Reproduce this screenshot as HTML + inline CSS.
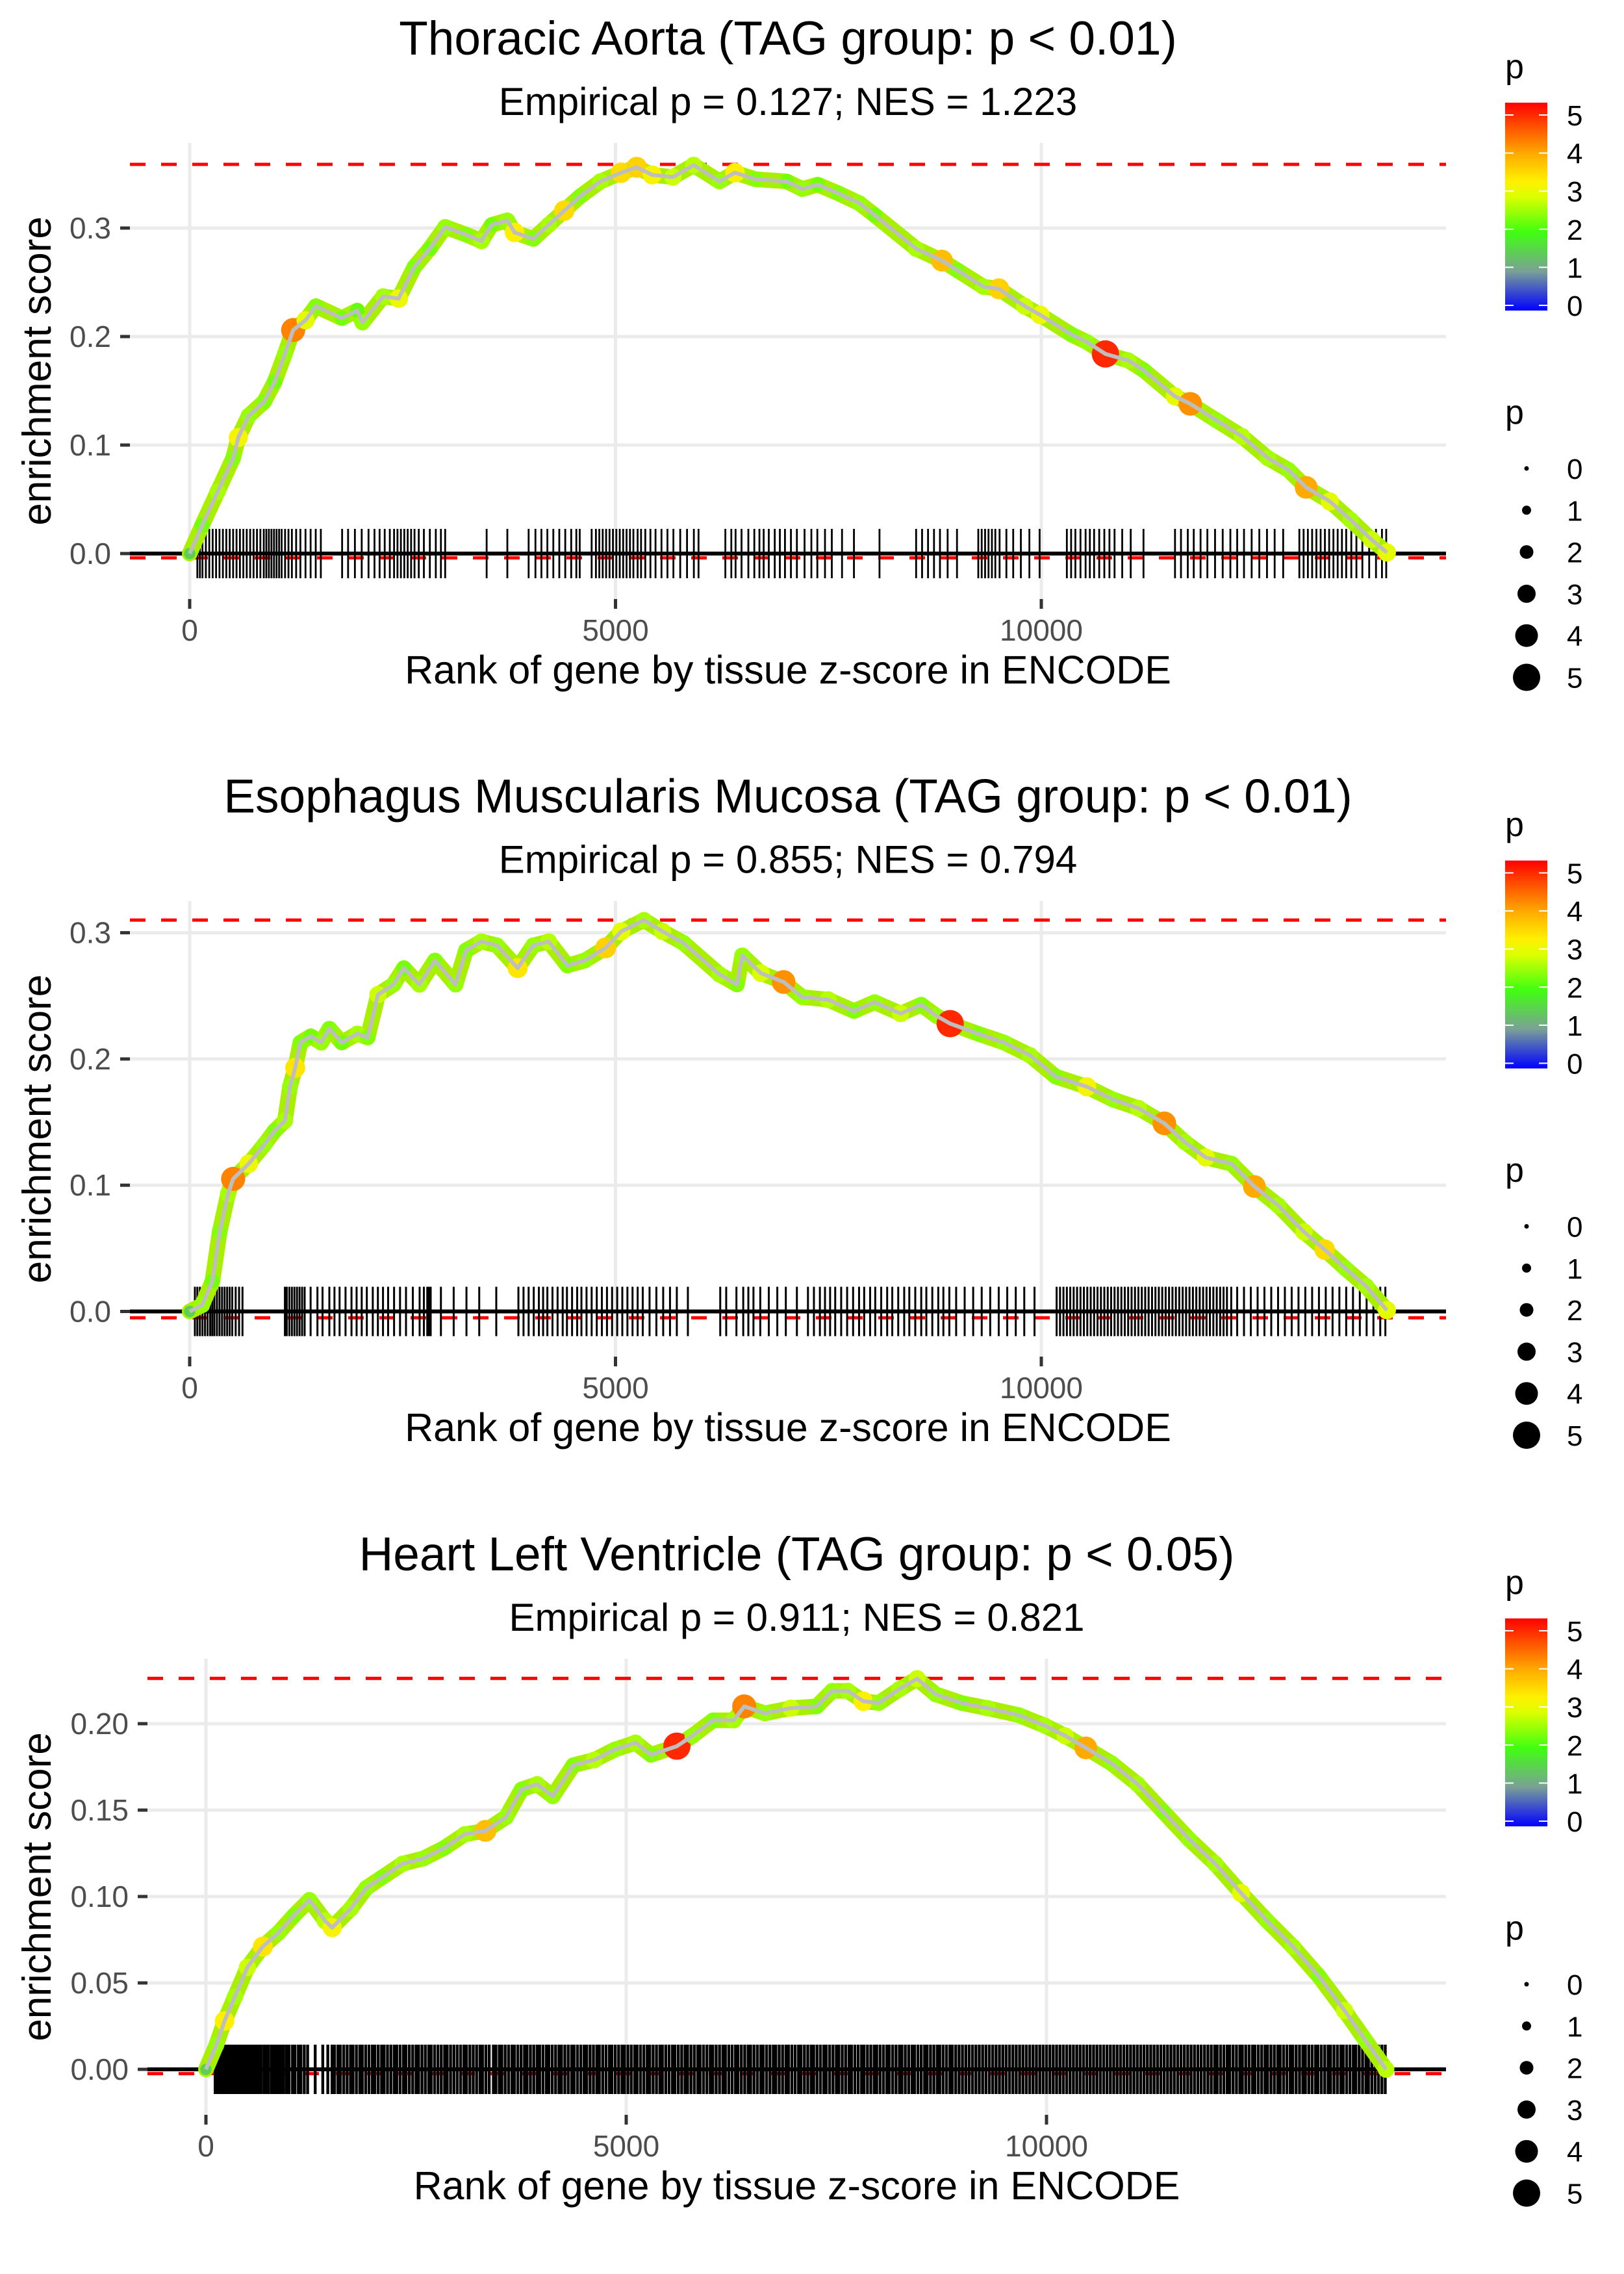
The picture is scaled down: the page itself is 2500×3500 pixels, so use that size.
<!DOCTYPE html>
<html><head><meta charset="utf-8"><style>
html,body{margin:0;padding:0;background:#fff;}
svg{display:block;font-family:"Liberation Sans",Arial,sans-serif;}
</style></head><body>
<svg id="fig" width="2500" height="3500" viewBox="0 0 2500 3500" xmlns="http://www.w3.org/2000/svg">
<rect width="2500" height="3500" fill="#fff"/>
</svg>
<script>
// ---------- data ----------
const TITLES = ["Thoracic Aorta (TAG group: p < 0.01)", "Esophagus Muscularis Mucosa (TAG group: p < 0.01)", "Heart Left Ventricle (TAG group: p < 0.05)"];
const SUBTITLES = ["Empirical p = 0.127; NES = 1.223", "Empirical p = 0.855; NES = 0.794", "Empirical p = 0.911; NES = 0.821"];
const X_TICKS = [0, 5000, 10000];
const X_TICK_LABELS = ["0", "5000", "10000"];
const Y_TICKS_1 = [0, 0.1, 0.2, 0.3];
const Y_TICK_LABELS_1 = ["0.0", "0.1", "0.2", "0.3"];
const Y_TICKS_2 = [0, 0.1, 0.2, 0.3];
const Y_TICK_LABELS_2 = ["0.0", "0.1", "0.2", "0.3"];
const Y_TICKS_3 = [0, 0.05, 0.10, 0.15, 0.20];
const Y_TICK_LABELS_3 = ["0.00", "0.05", "0.10", "0.15", "0.20"];
const MAX_ES = [0.3587, 0.310, 0.2262];
const MIN_ES = [-0.004, -0.005, -0.0025];
const LEGEND_VALUES = [0, 1, 2, 3, 4, 5];

const P1_RANK = [0,146,328,510,571,693,875,996,1118,1215,1361,1482,1786,1968,2029,2272,2454,2637,2819,3001,3244,3426,3548,3730,3815,4034,4216,4398,4581,4824,5067,5249,5431,5674,5917,6221,6403,6646,7011,7193,7375,7618,7861,8043,8529,8833,9015,9319,9501,9805,9987,10352,10534,10753,11020,11202,11567,11749,12053,12357,12660,12903,13110,13389,13632,13875,14058];
const P1_ES = [0,.026,.057,.088,.107,.127,.14,.158,.184,.206,.215,.228,.217,.224,.213,.237,.235,.264,.281,.301,.294,.288,.303,.307,.296,.29,.303,.316,.329,.343,.351,.356,.349,.347,.358,.343,.351,.345,.343,.336,.34,.332,.323,.312,.281,.27,.261,.246,.244,.228,.22,.202,.195,.184,.178,.169,.145,.138,.123,.108,.088,.077,.061,.048,.031,.013,.001];
const P1_P = [1.5,2.3,2.6,2.4,3.2,2.5,2.4,2.3,2.5,4.3,3.0,2.4,2.3,2.2,2.5,2.6,3.1,2.4,2.3,2.5,2.4,2.6,2.3,2.5,3.3,2.4,2.6,3.5,2.4,2.6,3.5,3.6,3.2,2.8,2.7,2.5,3.3,2.4,2.3,2.5,2.3,2.4,2.5,2.3,2.6,3.8,2.4,2.6,3.6,2.8,3.1,2.4,2.5,5.0,2.6,2.4,3.0,4.2,2.5,2.7,2.6,2.5,4.0,3.0,2.6,2.8,3.0];
const P1_HITS = [90,120,150,190,230,270,310,350,390,430,470,510,550,590,630,670,710,750,790,830,870,900,930,960,990,1020,1050,1080,1120,1160,1200,1250,1300,1360,1420,1480,1540,1790,1860,1940,2020,2100,2170,2230,2290,2350,2400,2440,2480,2520,2560,2600,2640,2690,2750,2820,2890,2950,3000,3487,3730,3980,4060,4130,4200,4270,4340,4410,4480,4540,4580,4720,4770,4810,4850,4890,4930,4970,5010,5050,5090,5130,5170,5210,5260,5300,5350,5410,5470,5540,5610,5680,5760,5840,5920,5975,6290,6360,6410,6480,6560,6630,6690,6740,6800,6870,6930,6990,7060,7130,7220,7300,7370,7460,7540,7660,7800,8100,8530,8600,8670,8740,8810,8900,9010,9260,9300,9340,9380,9420,9460,9510,9590,9670,9760,9860,9980,10300,10350,10400,10460,10520,10570,10620,10680,10740,10800,10860,10950,11050,11200,11570,11640,11720,11790,11870,11950,12040,12130,12220,12300,12380,12470,12560,12650,12740,12840,13030,13080,13130,13180,13230,13280,13330,13380,13430,13480,13530,13580,13640,13700,13770,13850,13930,14000,14050];

const P2_RANK = [0,146,267,352,450,510,693,875,996,1118,1178,1239,1300,1422,1543,1640,1786,1968,2090,2211,2393,2515,2697,2880,3122,3244,3426,3608,3851,4034,4216,4435,4641,4884,5067,5334,5553,5796,6221,6427,6488,6707,6974,7193,7497,7800,8043,8347,8590,8772,8930,9258,9562,9866,10170,10534,10838,11141,11445,11688,11931,12235,12502,12781,13085,13328,13571,13814,14058];
const P2_ES = [0,.005,.024,.063,.093,.105,.117,.132,.143,.151,.178,.193,.213,.218,.213,.224,.213,.22,.217,.251,.259,.272,.259,.278,.259,.286,.293,.29,.272,.29,.293,.274,.278,.288,.301,.31,.301,.292,.267,.259,.282,.268,.261,.249,.247,.238,.245,.236,.243,.234,.228,.22,.213,.203,.186,.178,.168,.161,.149,.134,.122,.117,.099,.084,.063,.049,.034,.02,.001];
const P2_P = [1.5,2.5,2.3,2.4,2.6,4.3,3.1,2.5,2.4,2.6,2.5,3.4,2.4,2.3,2.5,2.4,2.3,2.6,2.4,2.8,2.5,2.3,2.6,2.4,2.5,2.4,2.6,2.5,3.4,2.5,2.7,2.4,2.5,3.6,3.0,2.6,2.8,2.5,2.6,2.4,2.5,2.9,4.2,2.5,2.7,2.4,2.5,2.8,2.4,2.5,5.0,2.4,2.5,2.6,2.4,3.2,2.5,2.7,4.2,2.6,3.0,2.5,4.0,2.6,2.8,3.5,2.5,2.6,3.0];
const P2_HITS = [61,90,120,150,180,210,240,265,290,320,350,380,410,440,470,500,540,580,620,1118,1140,1170,1200,1230,1260,1290,1320,1350,1420,1500,1560,1640,1700,1760,1830,1900,1960,2020,2080,2150,2210,2270,2330,2400,2470,2540,2620,2700,2750,2790,2800,2810,2830,2950,3100,3250,3400,3600,3860,3920,3980,4040,4100,4150,4200,4260,4320,4380,4430,4490,4550,4600,4660,4720,4780,4840,4900,4960,5020,5080,5140,5200,5260,5320,5400,5480,5560,5640,5720,5850,6230,6300,6420,6500,6560,6620,6700,6800,6900,7000,7130,7260,7330,7400,7460,7520,7580,7650,7720,7790,7860,7920,7990,8050,8120,8190,8250,8320,8390,8450,8520,8590,8650,8720,8790,8850,8920,9000,9100,9200,9300,9400,9500,9600,9700,9800,9920,10180,10220,10260,10300,10340,10380,10420,10460,10500,10540,10580,10620,10660,10700,10740,10780,10820,10860,10900,10940,10980,11020,11060,11100,11140,11180,11220,11260,11300,11340,11380,11420,11460,11500,11540,11580,11620,11660,11700,11740,11780,11820,11860,11900,11940,11980,12020,12060,12100,12140,12180,12230,12300,12380,12460,12540,12620,12700,12780,12860,12940,13020,13100,13180,13260,13340,13420,13500,13580,13660,13740,13820,13900,13980,14040];

const P3_RANK = [0,123,222,345,493,677,862,1047,1232,1416,1502,1724,1909,2094,2340,2586,2832,3079,3325,3571,3756,3941,4126,4372,4618,4864,5111,5295,5603,5788,6034,6280,6404,6650,6958,7266,7451,7635,7820,8005,8251,8460,8682,8990,9298,9667,9975,10222,10468,10776,11084,11391,11699,12007,12315,12623,12931,13238,13546,13792,14039];
const P3_ES = [0,.014,.028,.042,.059,.071,.079,.089,.098,.086,.082,.093,.105,.111,.119,.122,.128,.136,.138,.146,.162,.165,.158,.176,.179,.185,.189,.182,.187,.193,.202,.202,.21,.206,.209,.21,.219,.219,.213,.212,.22,.226,.217,.212,.209,.205,.199,.193,.186,.177,.165,.149,.133,.119,.102,.086,.071,.054,.034,.017,0];
const P3_P = [1.5,2.5,3.3,2.6,2.8,3.4,2.5,2.4,2.5,2.7,3.2,2.6,2.5,2.4,2.6,2.5,2.4,2.6,3.8,2.5,2.4,2.6,2.5,2.4,2.7,2.5,2.6,2.4,5.0,2.5,2.4,2.6,4.3,2.5,2.8,2.4,2.5,2.6,3.3,2.5,2.6,2.8,2.5,2.4,2.6,2.5,2.6,2.8,4.0,2.5,2.6,2.4,2.5,2.6,3.0,2.5,2.6,2.4,2.8,2.5,2.7];
const P3_HITS = [110,130,160,185,210,240,270,290,320,350,380,400,430,460,490,520,545,570,600,630,655,690,720,745,780,810,840,870,900,925,960,990,1030,1060,1100,1130,1170,1210,1300,1390,1450,1500,1530,1570,1600,1640,1680,1720,1750,1790,1830,1860,1900,1940,1980,2010,2050,2090,2120,2160,2200,2240,2270,2310,2350,2380,2420,2460,2500,2530,2570,2610,2650,2680,2720,2760,2800,2840,2870,2910,2950,2990,3030,3070,3100,3140,3180,3220,3260,3290,3330,3370,3420,3450,3490,3520,3560,3600,3640,3670,3710,3750,3790,3820,3860,3900,3940,3970,4010,4050,4080,4120,4160,4200,4230,4270,4310,4350,4380,4420,4460,4500,4530,4570,4610,4650,4680,4720,4760,4800,4830,4870,4910,4950,4980,5020,5060,5100,5130,5170,5210,5250,5280,5320,5360,5400,5430,5470,5510,5550,5580,5620,5660,5700,5730,5770,5810,5850,5880,5920,5960,6000,6030,6070,6110,6150,6180,6220,6260,6300,6330,6370,6410,6450,6480,6520,6560,6600,6630,6670,6710,6750,6780,6820,6860,6900,6930,6970,7010,7050,7080,7120,7160,7200,7230,7270,7310,7350,7380,7420,7460,7500,7530,7570,7610,7650,7680,7720,7760,7800,7830,7870,7910,7950,7980,8020,8060,8100,8130,8170,8210,8250,8280,8320,8360,8400,8430,8470,8510,8550,8580,8620,8660,8700,8730,8770,8810,8850,8880,8920,8960,9000,9040,9080,9120,9160,9200,9240,9280,9320,9360,9400,9440,9480,9520,9560,9600,9640,9680,9720,9760,9800,9840,9880,9920,9960,10000,10040,10080,10120,10160,10200,10240,10280,10320,10360,10400,10440,10480,10520,10560,10600,10640,10680,10720,10760,10800,10840,10880,10920,10960,11000,11040,11080,11120,11160,11200,11240,11280,11320,11360,11400,11440,11480,11520,11560,11600,11640,11680,11720,11760,11800,11840,11880,11920,11960,12000,12030,12070,12110,12150,12180,12220,12260,12300,12330,12370,12410,12450,12480,12520,12560,12600,12630,12670,12710,12750,12780,12820,12860,12900,12930,12970,13010,13050,13080,13120,13160,13200,13230,13270,13310,13350,13380,13420,13460,13500,13530,13570,13610,13650,13680,13720,13760,13800,13830,13870,13910,13950,13990,14030];

// ---------- rendering ----------
const NS = "http://www.w3.org/2000/svg";
const svg = document.getElementById("fig");
function mk(tag, attrs, parent) {
  const e = document.createElementNS(NS, tag);
  for (const k in attrs) e.setAttribute(k, attrs[k]);
  (parent || svg).appendChild(e);
  return e;
}
const STOPS = [[0,[0,0,255]],[1,[122,160,150]],[2,[64,255,16]],[2.9,[220,255,0]],[3.3,[255,240,0]],[4,[255,170,0]],[5,[255,40,0]],[5.3,[255,0,0]]];
function pColor(p) {
  for (let i = 0; i < STOPS.length - 1; i++) {
    const a = STOPS[i], b = STOPS[i + 1];
    if (p <= b[0]) {
      const t = Math.max(0, (p - a[0]) / (b[0] - a[0]));
      const c = a[1].map((v, j) => Math.round(v + (b[1][j] - v) * t));
      return "rgb(" + c.join(",") + ")";
    }
  }
  return "rgb(255,0,0)";
}
function pRadius(p) { return 3.5 + 3.5 * p; }

const PANELS = [
  { off: 0, left: 200, right: 2226, x0: 292, xs: 0.1311, zero: 852, ys: 1670, top: 220, bottom: 922, labRight: 171,
    rank: P1_RANK, es: P1_ES, p: P1_P, hits: P1_HITS, yt: Y_TICKS_1, ytl: Y_TICK_LABELS_1, rugW: 2.8 },
  { off: 1166.5, left: 200, right: 2226, x0: 292, xs: 0.1311, zero: 2018.5, ys: 1943, top: 1387, bottom: 2088, labRight: 171,
    rank: P2_RANK, es: P2_ES, p: P2_P, hits: P2_HITS, yt: Y_TICKS_2, ytl: Y_TICK_LABELS_2, rugW: 3.0 },
  { off: 2333, left: 227, right: 2226, x0: 317, xs: 0.1294, zero: 3185, ys: 2660, top: 2553, bottom: 3255, labRight: 198,
    rank: P3_RANK, es: P3_ES, p: P3_P, hits: P3_HITS, yt: Y_TICKS_3, ytl: Y_TICK_LABELS_3, rugW: 4.4 }
];

PANELS.forEach((P, idx) => {
  const g = mk("g", {});
  
  
  const X = r => P.x0 + r * P.xs;
  const Y = v => P.zero - v * P.ys;
  const cx = (P.left + P.right) / 2;

  const t = mk("text", { x: cx, y: P.off + 84, "text-anchor": "middle", "font-size": 73, fill: "#000" }, g);
  t.textContent = TITLES[idx];
  
  
  const st = mk("text", { x: cx, y: P.off + 177, "text-anchor": "middle", "font-size": 60, fill: "#000" }, g);
  st.textContent = SUBTITLES[idx];
  
  

  P.yt.forEach((v, i) => {
    const gl = mk("line", { x1: P.left, x2: P.right, y1: Y(v), y2: Y(v), stroke: "#ebebeb", "stroke-width": 5 }, g);
    
    
    const tk = mk("line", { x1: P.left - 15, x2: P.left, y1: Y(v), y2: Y(v), stroke: "#333", "stroke-width": 5 }, g);
    
    
    const tl = mk("text", { x: P.labRight, y: Y(v) + 16, "text-anchor": "end", "font-size": 46, fill: "#4d4d4d" }, g);
    tl.textContent = P.ytl[i];
    
    
  });
  X_TICKS.forEach((v, i) => {
    const gl = mk("line", { x1: X(v), x2: X(v), y1: P.top, y2: P.bottom, stroke: "#ebebeb", "stroke-width": 5 }, g);
    
    
    const tk = mk("line", { x1: X(v), x2: X(v), y1: P.bottom, y2: P.bottom + 15, stroke: "#333", "stroke-width": 5 }, g);
    
    
    const tl = mk("text", { x: X(v), y: P.bottom + 64, "text-anchor": "middle", "font-size": 46, fill: "#4d4d4d" }, g);
    tl.textContent = X_TICK_LABELS[i];
    
    
  });

  const xt = mk("text", { x: cx, y: P.bottom + 130, "text-anchor": "middle", "font-size": 61, fill: "#000" }, g);
  xt.textContent = "Rank of gene by tissue z-score in ENCODE";
  
  
  const ymid = (P.top + P.bottom) / 2;
  const yt = mk("text", { x: 58, y: ymid, "text-anchor": "middle", "font-size": 62, fill: "#000", transform: "rotate(-90 58 " + ymid + ") translate(0 20)" }, g);
  yt.textContent = "enrichment score";
  
  

  [MAX_ES[idx], MIN_ES[idx]].forEach((v, i) => {
    const l = mk("line", { x1: P.left, x2: P.right, y1: Y(v), y2: Y(v), stroke: "#ff0000", "stroke-width": 5, "stroke-dasharray": "24 24" }, g);
    
    
  });

  const rug = mk("g", {}, g);
  
  
  P.hits.forEach(h => {
    const l = mk("line", { x1: X(h), x2: X(h), y1: P.zero - 38, y2: P.zero + 38, stroke: "#000", "stroke-width": P.rugW }, rug);
    
    
  });

  const zl = mk("line", { x1: P.left, x2: P.right, y1: Y(0), y2: Y(0), stroke: "#000", "stroke-width": 6 }, g);
  
  

  const d = P.rank.map((r, i) => (i ? "L" : "M") + X(r).toFixed(1) + " " + Y(P.es[i]).toFixed(1)).join(" ");
  // colored band of overlapping points (drawn as wide stroke along the same data path)
  const band = mk("path", { d: d, fill: "none", stroke: "#a8f000", "stroke-width": 24, "stroke-linejoin": "round", "stroke-linecap": "round" }, g);
  
  

  const pts = mk("g", {}, g);
  
  
  P.rank.forEach((r, i) => {
    const c = mk("circle", { cx: X(r), cy: Y(P.es[i]), r: pRadius(P.p[i]), fill: pColor(P.p[i]) }, pts);
    
    
  });
  const ln = mk("path", { d: d, fill: "none", stroke: "#bebebe", "stroke-width": 6, "stroke-linejoin": "round" }, g);
  
  

  const o = P.off;
  const lg = mk("g", {}, g);
  
  
  const lt = mk("text", { x: 2317, y: o + 120, "font-size": 52, fill: "#000" }, lg);
  lt.textContent = "p";
  
  
  const gid = "grad" + idx;
  const defs = mk("defs", {}, lg);
  const grad = mk("linearGradient", { id: gid, x1: 0, y1: 1, x2: 0, y2: 0 }, defs);
  for (let k = 0; k <= 53; k++) {
    const v = k / 10;
    mk("stop", { offset: (v / 5.3).toFixed(4), "stop-color": pColor(v) }, grad);
  }
  const cbY = v => o + 470 - 58.6 * v;
  const bar = mk("rect", { x: 2317, y: o + 158, width: 65, height: 320, fill: "url(#" + gid + ")" }, lg);
  
  
  LEGEND_VALUES.forEach(v => {
    mk("line", { x1: 2317, x2: 2330, y1: cbY(v), y2: cbY(v), stroke: "#fff", "stroke-width": 2 }, lg);
    mk("line", { x1: 2369, x2: 2382, y1: cbY(v), y2: cbY(v), stroke: "#fff", "stroke-width": 2 }, lg);
    const tl = mk("text", { x: 2412, y: cbY(v) + 16, "font-size": 44, fill: "#000" }, lg);
    tl.textContent = String(v);
    
    
  });
  const sg = mk("g", {}, g);
  
  
  const st2 = mk("text", { x: 2317, y: o + 652, "font-size": 52, fill: "#000" }, sg);
  st2.textContent = "p";
  
  
  LEGEND_VALUES.forEach((v, i) => {
    const yy = o + 721 + 64.3 * i;
    const c = mk("circle", { cx: 2350, cy: yy, r: pRadius(v), fill: "#000" }, sg);
    
    
    const tl = mk("text", { x: 2412, y: yy + 16, "font-size": 44, fill: "#000" }, sg);
    tl.textContent = String(v);
    
    
  });
});
</script>
</body></html>
